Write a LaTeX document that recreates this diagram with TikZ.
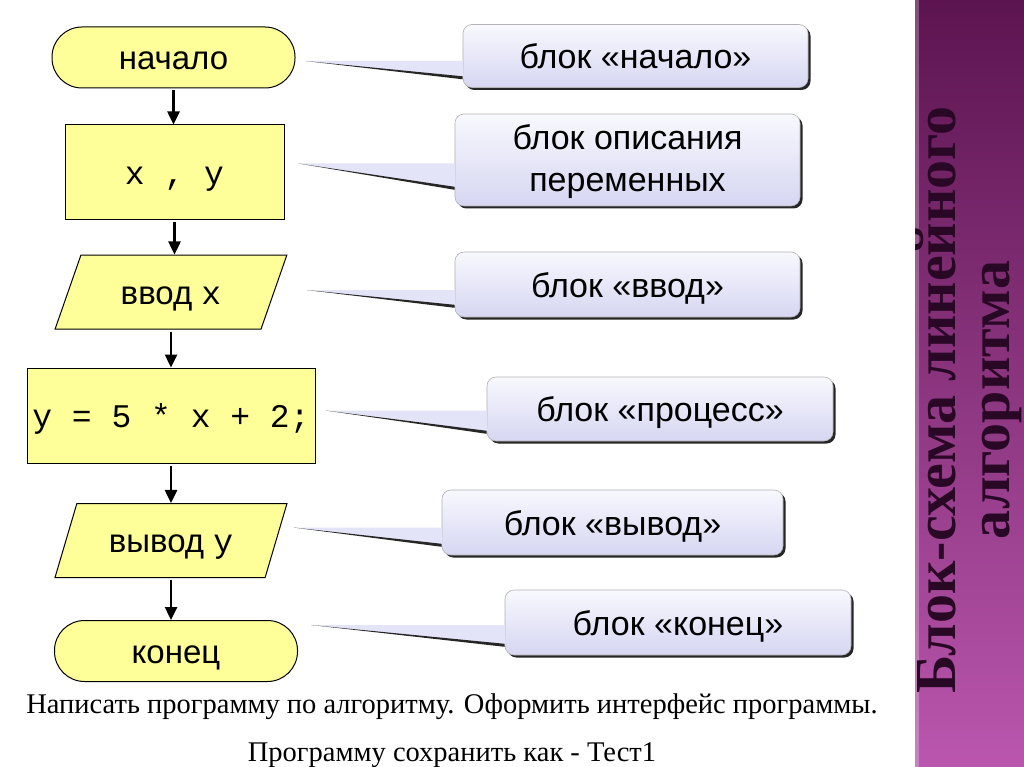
\documentclass[tikz,border=0pt]{standalone}
\usepackage{fontspec}
\setmainfont{Liberation Sans}
\newfontfamily\codefont{Liberation Mono}
\newfontfamily\titlefont{Liberation Serif}
\usetikzlibrary{shapes.geometric,arrows.meta,shadows,calc}
\definecolor{blockyellow}{RGB}{255,255,153}
\definecolor{lavtop}{RGB}{248,248,254}
\definecolor{lavbot}{RGB}{214,214,242}
\definecolor{lavwedge}{RGB}{228,228,248}
\definecolor{bartop}{RGB}{92,20,80}
\definecolor{barbot}{RGB}{186,86,174}
\definecolor{titleink}{RGB}{40,8,36}

\tikzset{
  block/.style={draw=black, line width=1pt, fill=blockyellow, inner sep=0pt,
    text height=24pt, text depth=0pt, font=\fontsize{33}{36}\selectfont},
  terminal/.style={block, rectangle, rounded corners=30pt, minimum width=243pt, minimum height=61pt},
  declbox/.style={block, rectangle, minimum width=219pt, minimum height=95pt},
  procbox/.style={block, rectangle, minimum width=288pt, minimum height=95pt},
  iobox/.style={block, trapezium, trapezium stretches=true,
    trapezium left angle=59, trapezium right angle=121,
    minimum width=232pt, minimum height=74pt},
  flow/.style={line width=2.5pt, -{Triangle[length=13pt,width=12pt]}, shorten <=2pt},
  remark/.style={rectangle, rounded corners=9pt, draw=black!30, line width=0.6pt,
    top color=lavtop, bottom color=lavbot, inner sep=0pt, align=center,
    drop shadow={shadow xshift=2.5pt, shadow yshift=-2.5pt, fill=black!85, opacity=1},
    text height=25pt, text depth=0pt, font=\fontsize{34}{42}\selectfont},
  wedge/.style={fill=lavwedge},
  pointer/.style={fill=black!85},
  tasktext/.style={anchor=base, font=\titlefont\fontsize{28.5}{32}\selectfont},
}

\begin{document}
\begin{tikzpicture}[x=1pt, y=-1pt]
  \useasboundingbox[fill=white] (0,0) rectangle (1024,767);

  % side bar with the title
  \shade[top color=bartop, bottom color=barbot] (915,0) rectangle (1024,767);
  \fill[white, opacity=0.25] (915,0) rectangle (919,767);
  \node[rotate=90, align=center, text=titleink,
    font=\titlefont\bfseries\fontsize{58}{54}\selectfont] (title) at (969,400)
    {Блок-схема линейного\\алгоритма};

  % flowchart
  \node[terminal] (start) at (173.5,57.5) {начало};
  \node[declbox] (vars) at (174.5,172.5) {\codefont x , y};
  \node[iobox] (input) at (171,292) {ввод {\codefont x}};
  \node[procbox] (proc) at (171,415.5) {\codefont y = 5 * x + 2;};
  \node[iobox] (output) at (171,540.5) {вывод {\codefont y}};
  \node[terminal] (finish) at (176,651) {конец};

  \draw[flow] (start.south) -- (start.south |- vars.north);
  \draw[flow] (vars.south) -- (vars.south |- input.north);
  \draw[flow] (input.south) -- (input.south |- proc.north);
  \draw[flow] (proc.south) -- (proc.south |- output.north);
  \draw[flow] (output.south) -- (output.south |- finish.north);

  % explanations
  \node[remark, minimum width=345pt, minimum height=63pt] (lstart) at (635.5,56) {блок «начало»};
  \node[remark, minimum width=345pt, minimum height=92pt, text height=64pt] (lvars) at (627.5,160) {блок описания\\переменных};
  \node[remark, minimum width=345pt, minimum height=65pt] (linput) at (627.5,284.5) {блок «ввод»};
  \node[remark, minimum width=346pt, minimum height=64pt] (lproc) at (660,409) {блок «процесс»};
  \node[remark, minimum width=341pt, minimum height=65pt] (loutput) at (612.5,522.5) {блок «вывод»};
  \node[remark, minimum width=346pt, minimum height=65pt] (lfinish) at (678,622.5) {блок «конец»};

  \coordinate (tstart) at ($(start.east)+(10,3.5)$);
  \coordinate (tvars) at ($(vars.east)+(14,-9)$);
  \coordinate (tinput) at ($(input.east)+(32,-2)$);
  \coordinate (tproc) at ($(proc.east)+(10,-5)$);
  \coordinate (toutput) at ($(output.east)+(17,-13)$);
  \coordinate (tfinish) at ($(finish.east)+(13,-26)$);

  \fill[wedge] (tstart) -- (tstart -| lstart.west) -- ($(lstart.south west)+(1,-10)$) -- cycle;
  \fill[wedge] (tvars) -- (tvars -| lvars.west) -- ($(lvars.south west)+(1,-18)$) -- cycle;
  \fill[wedge] (tinput) -- (tinput -| linput.west) -- ($(linput.south west)+(1,-11)$) -- cycle;
  \fill[wedge] (tproc) -- (tproc -| lproc.west) -- ($(lproc.south west)+(1,-9)$) -- cycle;
  \fill[wedge] (toutput) -- (toutput -| loutput.west) -- ($(loutput.south west)+(1,-10)$) -- cycle;
  \fill[wedge] (tfinish) -- (tfinish -| lfinish.west) -- ($(lfinish.south west)+(1,-10)$) -- cycle;

  \fill[pointer] (tstart) -- ($(lstart.south west)+(0,-11.5)$) -- ($(lstart.south west)+(0,-8.5)$) -- cycle;
  \fill[pointer] (tvars) -- ($(lvars.south west)+(0,-19.5)$) -- ($(lvars.south west)+(0,-16.5)$) -- cycle;
  \fill[pointer] (tinput) -- ($(linput.south west)+(0,-12.5)$) -- ($(linput.south west)+(0,-9.5)$) -- cycle;
  \fill[pointer] (tproc) -- ($(lproc.south west)+(0,-10.5)$) -- ($(lproc.south west)+(0,-7.5)$) -- cycle;
  \fill[pointer] (toutput) -- ($(loutput.south west)+(0,-11.5)$) -- ($(loutput.south west)+(0,-8.5)$) -- cycle;
  \fill[pointer] (tfinish) -- ($(lfinish.south west)+(0,-11.5)$) -- ($(lfinish.south west)+(0,-8.5)$) -- cycle;

  % task text
  \node[tasktext] (task) at (452,713)
    {Написать программу по алгоритму. Оформить интерфейс программы.};
  \node[tasktext] (save) at (452,761)
    {Программу сохранить как - Тест1};
\end{tikzpicture}
\end{document}
